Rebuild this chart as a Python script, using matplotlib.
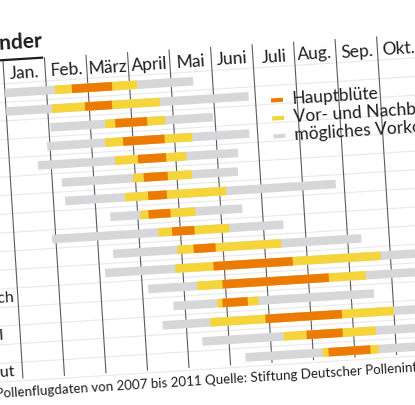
import numpy as np
import matplotlib
matplotlib.use("Agg")
import matplotlib.pyplot as plt
from matplotlib.transforms import Affine2D

plt.rcParams['font.family'] = ['Lato', 'DejaVu Sans']

# data (months since 1 Jan)
months = ["Jan.", "Feb.", "März", "April", "Mai", "Juni", "Juli", "Aug.", "Sep.", "Okt.", "Nov.", "Dez."]
plants = ["Hasel", "Erle", "Pappel", "Weide", "Esche", "Hainbuche", "Birke", "Buche",
          "Eiche", "Kiefer", "Gräser", "Spitzwegerich", "Roggen", "Brennnessel", "Beifuß",
          "Traubenkraut"]
gray_start = [0.0, 0.0, 1.04, 0.93, 0.68, 1.23, 1.28, 2.34, 0.91, 2.35, 2.13, 3.14, 3.72, 3.43, 4.36, 5.37]
gray_end = [4.53, 5.84, 4.95, 5.8, 5.5, 5.47, 7.8, 5.52, 6.48, 8.33, 10.3, 10.0, 8.55, 10.5, 10.3, 10.6]
yellow_start = [1.2, 1.1, 2.36, 2.33, 2.54, 2.94, 2.72, 3.06, 3.47, 3.9, 3.82, 4.32, 4.78, 4.58, 6.32, 7.23]
yellow_end = [3.18, 3.7, 3.8, 4.43, 4.25, 4.36, 5.16, 4.39, 5.18, 6.4, 8.77, 8.38, 5.77, 9.0, 8.54, 8.58]
orange_start = [1.61, 1.9, 2.6, 2.76, 3.09, 3.2, 3.28, 3.26, 3.8, 4.29, 4.74, 4.93, 4.9, 5.91, 6.87, 7.37]
orange_end = [2.58, 2.55, 3.37, 3.76, 3.77, 3.78, 3.73, 3.79, 4.34, 4.82, 6.65, 7.49, 5.51, 7.75, 7.74, 8.38]
legend_labels = ["Hauptblüte", "Vor- und Nachblüte", "mögliches Vorkommen"]

ORANGE = "#ec7b05"
YELLOW = "#f6d53a"
GRAY = "#d7d7da"
TEXT = "#1e1e1e"

# pixel layout of the unrotated chart (photo is tilted a little)
x0, y0 = 5, 312
mw, rh = 41.6, 18.6
tilt = 3.6

fig = plt.figure(figsize=(4.15, 4.05), dpi=100)
ax = fig.add_axes([0, 0, 1, 1])
ax.set_xlim(-x0 / mw, (415 - x0) / mw)
ax.set_ylim(1 + y0 / rh, 1 - (405 - y0) / rh)
ax.axis("off")
tr = ax.transData + Affine2D().rotate_deg_around(x0, y0, tilt)

rows = np.arange(1, len(plants) + 1)

# faint row separators
for k in np.arange(0.5, len(plants) + 1, 1.0):
    ax.plot([-3, 12], [k, k], color="#e9e9e9", lw=0.8, transform=tr, zorder=1)

# month lines and names
for i, name in enumerate(months):
    ax.plot([i, i], [-0.75, 16.35], color="#5a5a5a", lw=0.8, transform=tr, zorder=2)
    ax.text(i + 0.5, 0.24, name, ha="center", va="baseline", fontsize=12.5, color=TEXT,
            rotation=tilt, rotation_mode="anchor", transform=tr)

# bars
gs, ge = np.array(gray_start), np.array(gray_end)
ys, ye = np.array(yellow_start), np.array(yellow_end)
os_, oe = np.array(orange_start), np.array(orange_end)
ax.barh(rows, ge - gs, left=gs, height=0.46, color=GRAY, transform=tr, zorder=3)
ax.barh(rows, ye - ys, left=ys, height=0.46, color=YELLOW, transform=tr, zorder=4)
ax.barh(rows, oe - os_, left=os_, height=0.46, color=ORANGE, transform=tr, zorder=5)

# plant names
for k, name in zip(rows, plants):
    ax.text(-2.45, k, name, ha="left", va="center", fontsize=11.5, color=TEXT,
            rotation=tilt, rotation_mode="anchor", transform=tr)

# title
ax.text(0.97, -1.35, "Pollenflugkalender", ha="right", va="baseline", fontsize=15,
        fontweight="bold", color=TEXT, rotation=tilt, rotation_mode="anchor", transform=tr)
ax.plot([-4, 0.97], [-0.77, -0.77], color=TEXT, lw=1.6, transform=tr, solid_capstyle="butt")

# legend
for j, (lab, col) in enumerate(zip(legend_labels, [ORANGE, YELLOW, GRAY])):
    k = 2.3 + 0.97 * j
    ax.plot([6.37, 6.66], [k, k], color=col, lw=3, transform=tr, solid_capstyle="butt", zorder=6)
    ax.text(6.88, k, lab, ha="left", va="center", fontsize=12.5, color=TEXT,
            rotation=tilt, rotation_mode="anchor", transform=tr, zorder=6)

# footer
ax.text(-0.67, 17.35, "Pollenflugdaten von 2007 bis 2011 Quelle: Stiftung Deutscher Polleninformationsdienst",
        ha="left", va="baseline", fontsize=9.6, color=TEXT,
        rotation=tilt, rotation_mode="anchor", transform=tr)

ax.set_xlim(-x0 / mw, (415 - x0) / mw)
ax.set_ylim(1 + y0 / rh, 1 - (405 - y0) / rh)
fig.savefig("out.png", dpi=100)
